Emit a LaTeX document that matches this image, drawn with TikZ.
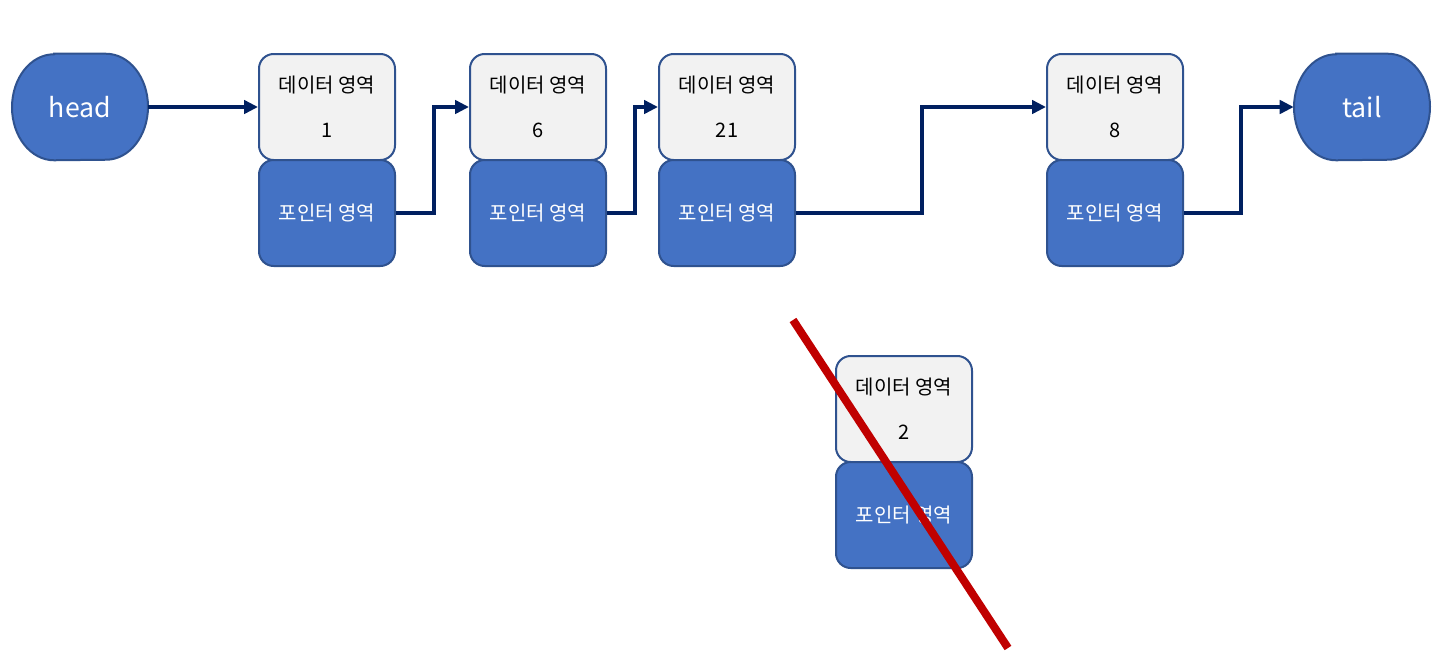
\documentclass[tikz,border=0pt]{standalone}
\usepackage{fontspec}
\newfontfamily\kr{Noto Sans CJK KR}
\usetikzlibrary{arrows.meta,calc,backgrounds}
\definecolor{nodeblue}{HTML}{4472C4}
\definecolor{nodeedge}{HTML}{2F528F}
\definecolor{datafill}{HTML}{F2F2F2}
\definecolor{navy}{HTML}{002060}
\definecolor{crossred}{HTML}{C00000}
\tikzset{
  box/.style={draw=nodeedge, line width=1.5pt, rounded corners=11pt, inner sep=0pt,
    minimum width=102pt, minimum height=79.5pt, align=center},
  databox/.style={box, fill=datafill, text=black,
    font=\kr\fontsize{15}{33.5}\selectfont},
  ptrbox/.style={box, fill=nodeblue, text=white,
    font=\kr\fontsize{15}{18}\selectfont},
  endtext/.style={text=white, inner sep=0pt, minimum width=102pt, minimum height=79.5pt,
    font=\kr\fontsize{20}{24}\selectfont},
  endshape/.style={draw=nodeedge, line width=1.5pt, fill=nodeblue},
  arr/.style={draw=navy, line width=3.5pt, -{Triangle[length=10.5pt,width=10pt]}},
  cross/.style={draw=crossred, line width=6pt}
}
\begin{document}
\begin{tikzpicture}[x=0.75pt,y=-0.75pt]
\useasboundingbox (0,0) rectangle (1435,668);
\node[endtext] (head) at (80,107) {head};
\node[endtext] (tail) at (1362,107) {tail};
\begin{scope}[on background layer]
\foreach \n in {head,tail}{
  \path[endshape] ($(\n.north)+(-26,0)$) -- ($(\n.north)+(26,0)$)
    arc[start angle=90,end angle=-90,x radius=31.5pt,y radius=39.75pt]
    -- ($(\n.south)+(-26,0)$)
    arc[start angle=270,end angle=90,x radius=31.5pt,y radius=39.75pt] -- cycle;
}
\end{scope}

\node[databox] (d1) at (327,107) {데이터 영역\\1};
\node[ptrbox]  (p1) at (327,213) {포인터 영역};
\node[databox] (d6) at (538,107) {데이터 영역\\6};
\node[ptrbox]  (p6) at (538,213) {포인터 영역};
\node[databox] (d21) at (727,107) {데이터 영역\\21};
\node[ptrbox]  (p21) at (727,213) {포인터 영역};
\node[databox] (d8) at (1115,107) {데이터 영역\\8};
\node[ptrbox]  (p8) at (1115,213) {포인터 영역};

\node[databox] (d2) at (904,409) {데이터 영역\\2};
\node[ptrbox]  (p2) at (904,515) {포인터 영역};

\draw[arr] (head.east) -- (d1.west);
\draw[arr] (p1.east) -- ++(38,0) |- (d6.west);
\draw[arr] (p6.east) -- ++(28,0) |- (d21.west);
\draw[arr] (p21.east) -- ++(126,0) |- (d8.west);
\draw[arr] (p8.east) -- ++(57,0) |- (tail.west);

\coordinate (c1) at (793,320);
\coordinate (c2) at (1008,648);
\draw[cross] (c1) -- (c2);
\end{tikzpicture}
\end{document}
